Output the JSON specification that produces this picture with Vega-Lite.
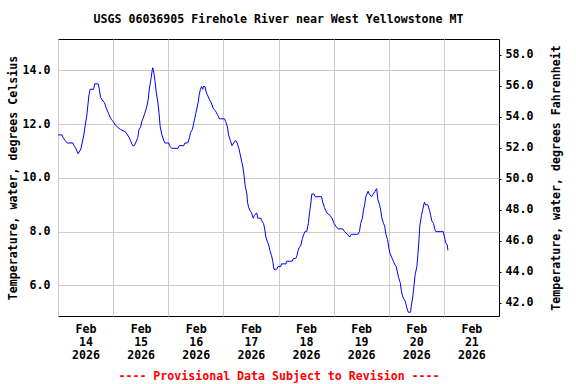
{
  "$schema": "https://vega.github.io/schema/vega-lite/v6.json",
  "width": 441,
  "height": 277,
  "autosize": {"type": "none"},
  "padding": {"left": 58, "top": 39, "right": 77, "bottom": 68},
  "background": "white",
  "title": {
    "text": "USGS 06036905 Firehole River near West Yellowstone MT",
    "font": "DejaVu Sans Mono",
    "fontSize": 11.6,
    "fontWeight": "bold",
    "color": "black",
    "anchor": "middle",
    "offset": 13
  },
  "config": {
    "font": "DejaVu Sans Mono",
    "view": {"stroke": "black", "strokeWidth": 1},
    "axis": {
      "labelFont": "DejaVu Sans Mono",
      "labelFontSize": 11.6,
      "labelFontWeight": "bold",
      "labelColor": "black",
      "titleFont": "DejaVu Sans Mono",
      "titleFontSize": 11.6,
      "titleFontWeight": "bold",
      "titleColor": "black",
      "gridColor": "#cccccc",
      "gridWidth": 1,
      "gridOpacity": 1,
      "domain": false
    }
  },
  "data": {
    "values": [
      {"time": "2026-02-14T00:00:00", "temp": 11.6},
      {"time": "2026-02-14T01:45:00", "temp": 11.6},
      {"time": "2026-02-14T02:15:00", "temp": 11.5},
      {"time": "2026-02-14T03:00:00", "temp": 11.4},
      {"time": "2026-02-14T04:00:00", "temp": 11.3},
      {"time": "2026-02-14T06:30:00", "temp": 11.3},
      {"time": "2026-02-14T07:00:00", "temp": 11.2},
      {"time": "2026-02-14T07:45:00", "temp": 11.1},
      {"time": "2026-02-14T08:15:00", "temp": 11.0},
      {"time": "2026-02-14T08:45:00", "temp": 10.9},
      {"time": "2026-02-14T09:30:00", "temp": 11.0},
      {"time": "2026-02-14T10:00:00", "temp": 11.1},
      {"time": "2026-02-14T10:30:00", "temp": 11.3},
      {"time": "2026-02-14T11:15:00", "temp": 11.6},
      {"time": "2026-02-14T11:45:00", "temp": 11.9},
      {"time": "2026-02-14T12:30:00", "temp": 12.3},
      {"time": "2026-02-14T13:00:00", "temp": 12.7},
      {"time": "2026-02-14T13:30:00", "temp": 13.1},
      {"time": "2026-02-14T14:00:00", "temp": 13.3},
      {"time": "2026-02-14T15:30:00", "temp": 13.3},
      {"time": "2026-02-14T16:00:00", "temp": 13.5},
      {"time": "2026-02-14T17:30:00", "temp": 13.5},
      {"time": "2026-02-14T18:00:00", "temp": 13.3},
      {"time": "2026-02-14T18:30:00", "temp": 13.0},
      {"time": "2026-02-14T19:15:00", "temp": 12.9},
      {"time": "2026-02-14T20:15:00", "temp": 12.8},
      {"time": "2026-02-14T21:00:00", "temp": 12.6},
      {"time": "2026-02-14T22:00:00", "temp": 12.4},
      {"time": "2026-02-14T23:00:00", "temp": 12.2},
      {"time": "2026-02-15T00:00:00", "temp": 12.1},
      {"time": "2026-02-15T00:45:00", "temp": 12.0},
      {"time": "2026-02-15T01:45:00", "temp": 11.9},
      {"time": "2026-02-15T03:15:00", "temp": 11.8},
      {"time": "2026-02-15T05:30:00", "temp": 11.7},
      {"time": "2026-02-15T06:15:00", "temp": 11.6},
      {"time": "2026-02-15T07:00:00", "temp": 11.5},
      {"time": "2026-02-15T07:30:00", "temp": 11.4},
      {"time": "2026-02-15T08:30:00", "temp": 11.2},
      {"time": "2026-02-15T09:15:00", "temp": 11.2},
      {"time": "2026-02-15T09:45:00", "temp": 11.3},
      {"time": "2026-02-15T10:45:00", "temp": 11.5},
      {"time": "2026-02-15T11:15:00", "temp": 11.8},
      {"time": "2026-02-15T12:00:00", "temp": 11.9},
      {"time": "2026-02-15T12:30:00", "temp": 12.1},
      {"time": "2026-02-15T13:00:00", "temp": 12.2},
      {"time": "2026-02-15T13:45:00", "temp": 12.4},
      {"time": "2026-02-15T14:30:00", "temp": 12.6},
      {"time": "2026-02-15T15:15:00", "temp": 12.9},
      {"time": "2026-02-15T15:45:00", "temp": 13.3},
      {"time": "2026-02-15T16:30:00", "temp": 13.7},
      {"time": "2026-02-15T17:00:00", "temp": 14.0},
      {"time": "2026-02-15T17:15:00", "temp": 14.1},
      {"time": "2026-02-15T17:45:00", "temp": 13.9},
      {"time": "2026-02-15T18:15:00", "temp": 13.6},
      {"time": "2026-02-15T18:45:00", "temp": 13.2},
      {"time": "2026-02-15T19:30:00", "temp": 12.8},
      {"time": "2026-02-15T20:00:00", "temp": 12.4},
      {"time": "2026-02-15T20:30:00", "temp": 11.9},
      {"time": "2026-02-15T21:15:00", "temp": 11.6},
      {"time": "2026-02-15T22:00:00", "temp": 11.4},
      {"time": "2026-02-15T22:30:00", "temp": 11.3},
      {"time": "2026-02-16T00:15:00", "temp": 11.3},
      {"time": "2026-02-16T00:30:00", "temp": 11.2},
      {"time": "2026-02-16T01:30:00", "temp": 11.1},
      {"time": "2026-02-16T04:15:00", "temp": 11.1},
      {"time": "2026-02-16T04:45:00", "temp": 11.2},
      {"time": "2026-02-16T06:45:00", "temp": 11.2},
      {"time": "2026-02-16T07:15:00", "temp": 11.3},
      {"time": "2026-02-16T08:30:00", "temp": 11.3},
      {"time": "2026-02-16T09:15:00", "temp": 11.5},
      {"time": "2026-02-16T09:45:00", "temp": 11.7},
      {"time": "2026-02-16T10:30:00", "temp": 11.8},
      {"time": "2026-02-16T11:00:00", "temp": 12.0},
      {"time": "2026-02-16T11:30:00", "temp": 12.2},
      {"time": "2026-02-16T12:00:00", "temp": 12.4},
      {"time": "2026-02-16T12:30:00", "temp": 12.6},
      {"time": "2026-02-16T13:00:00", "temp": 12.8},
      {"time": "2026-02-16T13:30:00", "temp": 13.1},
      {"time": "2026-02-16T14:00:00", "temp": 13.3},
      {"time": "2026-02-16T14:30:00", "temp": 13.4},
      {"time": "2026-02-16T15:00:00", "temp": 13.3},
      {"time": "2026-02-16T15:15:00", "temp": 13.4},
      {"time": "2026-02-16T16:00:00", "temp": 13.4},
      {"time": "2026-02-16T16:30:00", "temp": 13.2},
      {"time": "2026-02-16T17:00:00", "temp": 13.1},
      {"time": "2026-02-16T18:00:00", "temp": 12.9},
      {"time": "2026-02-16T18:45:00", "temp": 12.8},
      {"time": "2026-02-16T19:30:00", "temp": 12.6},
      {"time": "2026-02-16T20:30:00", "temp": 12.5},
      {"time": "2026-02-16T21:45:00", "temp": 12.3},
      {"time": "2026-02-16T22:15:00", "temp": 12.2},
      {"time": "2026-02-17T00:30:00", "temp": 12.2},
      {"time": "2026-02-17T01:00:00", "temp": 12.1},
      {"time": "2026-02-17T01:45:00", "temp": 11.9},
      {"time": "2026-02-17T02:15:00", "temp": 11.6},
      {"time": "2026-02-17T03:00:00", "temp": 11.4},
      {"time": "2026-02-17T03:45:00", "temp": 11.2},
      {"time": "2026-02-17T04:30:00", "temp": 11.3},
      {"time": "2026-02-17T05:15:00", "temp": 11.4},
      {"time": "2026-02-17T06:00:00", "temp": 11.3},
      {"time": "2026-02-17T06:45:00", "temp": 11.1},
      {"time": "2026-02-17T07:15:00", "temp": 10.9},
      {"time": "2026-02-17T08:00:00", "temp": 10.6},
      {"time": "2026-02-17T08:30:00", "temp": 10.4},
      {"time": "2026-02-17T09:00:00", "temp": 10.1},
      {"time": "2026-02-17T09:30:00", "temp": 9.7},
      {"time": "2026-02-17T10:15:00", "temp": 9.4},
      {"time": "2026-02-17T10:30:00", "temp": 9.1},
      {"time": "2026-02-17T11:00:00", "temp": 8.9},
      {"time": "2026-02-17T11:30:00", "temp": 8.8},
      {"time": "2026-02-17T12:15:00", "temp": 8.7},
      {"time": "2026-02-17T13:00:00", "temp": 8.5},
      {"time": "2026-02-17T13:30:00", "temp": 8.6},
      {"time": "2026-02-17T14:30:00", "temp": 8.7},
      {"time": "2026-02-17T15:00:00", "temp": 8.5},
      {"time": "2026-02-17T16:15:00", "temp": 8.5},
      {"time": "2026-02-17T16:45:00", "temp": 8.4},
      {"time": "2026-02-17T17:30:00", "temp": 8.3},
      {"time": "2026-02-17T18:00:00", "temp": 8.1},
      {"time": "2026-02-17T18:30:00", "temp": 7.8},
      {"time": "2026-02-17T19:15:00", "temp": 7.6},
      {"time": "2026-02-17T19:45:00", "temp": 7.5},
      {"time": "2026-02-17T20:15:00", "temp": 7.3},
      {"time": "2026-02-17T21:00:00", "temp": 7.1},
      {"time": "2026-02-17T21:30:00", "temp": 6.9},
      {"time": "2026-02-17T22:00:00", "temp": 6.6},
      {"time": "2026-02-17T23:15:00", "temp": 6.6},
      {"time": "2026-02-17T23:45:00", "temp": 6.7},
      {"time": "2026-02-18T01:00:00", "temp": 6.7},
      {"time": "2026-02-18T01:15:00", "temp": 6.8},
      {"time": "2026-02-18T03:15:00", "temp": 6.8},
      {"time": "2026-02-18T03:30:00", "temp": 6.9},
      {"time": "2026-02-18T06:00:00", "temp": 6.9},
      {"time": "2026-02-18T06:30:00", "temp": 7.0},
      {"time": "2026-02-18T07:30:00", "temp": 7.0},
      {"time": "2026-02-18T08:00:00", "temp": 7.1},
      {"time": "2026-02-18T08:30:00", "temp": 7.3},
      {"time": "2026-02-18T09:00:00", "temp": 7.4},
      {"time": "2026-02-18T09:45:00", "temp": 7.5},
      {"time": "2026-02-18T10:15:00", "temp": 7.7},
      {"time": "2026-02-18T11:00:00", "temp": 7.9},
      {"time": "2026-02-18T11:30:00", "temp": 8.0},
      {"time": "2026-02-18T12:15:00", "temp": 8.0},
      {"time": "2026-02-18T13:00:00", "temp": 8.3},
      {"time": "2026-02-18T13:30:00", "temp": 8.7},
      {"time": "2026-02-18T14:00:00", "temp": 9.0},
      {"time": "2026-02-18T14:30:00", "temp": 9.4},
      {"time": "2026-02-18T15:30:00", "temp": 9.4},
      {"time": "2026-02-18T16:00:00", "temp": 9.3},
      {"time": "2026-02-18T18:45:00", "temp": 9.3},
      {"time": "2026-02-18T19:15:00", "temp": 9.1},
      {"time": "2026-02-18T20:00:00", "temp": 8.9},
      {"time": "2026-02-18T21:00:00", "temp": 8.7},
      {"time": "2026-02-18T22:30:00", "temp": 8.6},
      {"time": "2026-02-18T23:15:00", "temp": 8.5},
      {"time": "2026-02-19T00:15:00", "temp": 8.3},
      {"time": "2026-02-19T01:00:00", "temp": 8.2},
      {"time": "2026-02-19T02:00:00", "temp": 8.1},
      {"time": "2026-02-19T04:00:00", "temp": 8.1},
      {"time": "2026-02-19T04:45:00", "temp": 8.0},
      {"time": "2026-02-19T06:00:00", "temp": 7.9},
      {"time": "2026-02-19T07:00:00", "temp": 7.8},
      {"time": "2026-02-19T07:45:00", "temp": 7.9},
      {"time": "2026-02-19T10:30:00", "temp": 7.9},
      {"time": "2026-02-19T11:15:00", "temp": 8.0},
      {"time": "2026-02-19T11:45:00", "temp": 8.3},
      {"time": "2026-02-19T12:30:00", "temp": 8.5},
      {"time": "2026-02-19T13:00:00", "temp": 8.8},
      {"time": "2026-02-19T13:30:00", "temp": 9.0},
      {"time": "2026-02-19T14:00:00", "temp": 9.3},
      {"time": "2026-02-19T15:00:00", "temp": 9.5},
      {"time": "2026-02-19T15:30:00", "temp": 9.4},
      {"time": "2026-02-19T16:30:00", "temp": 9.3},
      {"time": "2026-02-19T17:15:00", "temp": 9.4},
      {"time": "2026-02-19T18:00:00", "temp": 9.5},
      {"time": "2026-02-19T18:45:00", "temp": 9.6},
      {"time": "2026-02-19T19:15:00", "temp": 9.2},
      {"time": "2026-02-19T20:00:00", "temp": 9.0},
      {"time": "2026-02-19T20:30:00", "temp": 8.8},
      {"time": "2026-02-19T21:00:00", "temp": 8.5},
      {"time": "2026-02-19T21:45:00", "temp": 8.3},
      {"time": "2026-02-19T22:15:00", "temp": 8.2},
      {"time": "2026-02-19T22:45:00", "temp": 7.9},
      {"time": "2026-02-19T23:30:00", "temp": 7.7},
      {"time": "2026-02-20T00:00:00", "temp": 7.4},
      {"time": "2026-02-20T00:30:00", "temp": 7.2},
      {"time": "2026-02-20T01:30:00", "temp": 7.0},
      {"time": "2026-02-20T02:00:00", "temp": 6.9},
      {"time": "2026-02-20T02:30:00", "temp": 6.8},
      {"time": "2026-02-20T03:15:00", "temp": 6.7},
      {"time": "2026-02-20T03:45:00", "temp": 6.5},
      {"time": "2026-02-20T04:15:00", "temp": 6.3},
      {"time": "2026-02-20T05:00:00", "temp": 6.1},
      {"time": "2026-02-20T05:30:00", "temp": 5.8},
      {"time": "2026-02-20T06:00:00", "temp": 5.6},
      {"time": "2026-02-20T06:30:00", "temp": 5.5},
      {"time": "2026-02-20T07:15:00", "temp": 5.4},
      {"time": "2026-02-20T07:45:00", "temp": 5.2},
      {"time": "2026-02-20T08:30:00", "temp": 5.0},
      {"time": "2026-02-20T09:30:00", "temp": 5.0},
      {"time": "2026-02-20T09:45:00", "temp": 5.2},
      {"time": "2026-02-20T10:30:00", "temp": 5.6},
      {"time": "2026-02-20T11:00:00", "temp": 6.0},
      {"time": "2026-02-20T11:30:00", "temp": 6.4},
      {"time": "2026-02-20T12:15:00", "temp": 6.7},
      {"time": "2026-02-20T12:45:00", "temp": 7.2},
      {"time": "2026-02-20T13:15:00", "temp": 7.8},
      {"time": "2026-02-20T13:30:00", "temp": 8.2},
      {"time": "2026-02-20T14:15:00", "temp": 8.6},
      {"time": "2026-02-20T14:45:00", "temp": 8.8},
      {"time": "2026-02-20T15:30:00", "temp": 9.1},
      {"time": "2026-02-20T16:00:00", "temp": 9.0},
      {"time": "2026-02-20T17:00:00", "temp": 9.0},
      {"time": "2026-02-20T17:45:00", "temp": 8.8},
      {"time": "2026-02-20T18:15:00", "temp": 8.6},
      {"time": "2026-02-20T18:45:00", "temp": 8.4},
      {"time": "2026-02-20T19:30:00", "temp": 8.3},
      {"time": "2026-02-20T20:00:00", "temp": 8.1},
      {"time": "2026-02-20T20:30:00", "temp": 8.0},
      {"time": "2026-02-20T23:45:00", "temp": 8.0},
      {"time": "2026-02-21T00:30:00", "temp": 7.7},
      {"time": "2026-02-21T00:45:00", "temp": 7.6},
      {"time": "2026-02-21T01:30:00", "temp": 7.5},
      {"time": "2026-02-21T01:45:00", "temp": 7.3}
    ]
  },
  "encoding": {
    "x": {
      "field": "time",
      "type": "temporal",
      "scale": {
        "domain": [
          {"year": 2026, "month": 2, "date": 14},
          {"year": 2026, "month": 2, "date": 22}
        ]
      },
      "axis": {
        "title": "---- Provisional Data Subject to Revision ----",
        "titleColor": "#ff0000",
        "titlePadding": 10,
        "values": [
          {"year": 2026, "month": 2, "date": 14},
          {"year": 2026, "month": 2, "date": 15},
          {"year": 2026, "month": 2, "date": 16},
          {"year": 2026, "month": 2, "date": 17},
          {"year": 2026, "month": 2, "date": 18},
          {"year": 2026, "month": 2, "date": 19},
          {"year": 2026, "month": 2, "date": 20},
          {"year": 2026, "month": 2, "date": 21}
        ],
        "labelExpr": "[timeFormat(datum.value, '%b'), timeFormat(datum.value, '%d'), timeFormat(datum.value, '%Y')]",
        "labelOffset": 27.5,
        "labelPadding": 7,
        "labelLineHeight": 13,
        "labelBaseline": "top",
        "labelFlush": false,
        "labelOverlap": false,
        "labelBound": false,
        "ticks": false,
        "grid": true
      }
    }
  },
  "layer": [
    {
      "mark": {"type": "line", "color": "#0000ff", "strokeWidth": 1, "clip": true},
      "encoding": {
        "y": {
          "field": "temp",
          "type": "quantitative",
          "scale": {"domain": [4.86, 15.17], "nice": false, "zero": false},
          "axis": {
            "orient": "left",
            "title": "Temperature, water, degrees Celsius",
            "values": [6, 8, 10, 12, 14],
            "format": ".1f",
            "ticks": false,
            "labelPadding": 8,
            "titlePadding": 4,
            "grid": true
          }
        }
      }
    },
    {
      "mark": {"type": "line", "opacity": 0, "clip": true},
      "encoding": {
        "y": {
          "field": "temp",
          "type": "quantitative",
          "scale": {"domain": [41.14, 59.01], "nice": false, "zero": false},
          "axis": {
            "orient": "right",
            "title": "Temperature, water, degrees Fahrenheit",
            "values": [42, 44, 46, 48, 50, 52, 54, 56, 58],
            "format": ".1f",
            "ticks": true,
            "tickSize": 2,
            "tickColor": "black",
            "labelPadding": 4,
            "titleAngle": -90,
            "titleBaseline": "top",
            "titlePadding": 18,
            "grid": false
          }
        }
      }
    }
  ],
  "resolve": {"scale": {"y": "independent"}, "axis": {"y": "independent"}}
}
